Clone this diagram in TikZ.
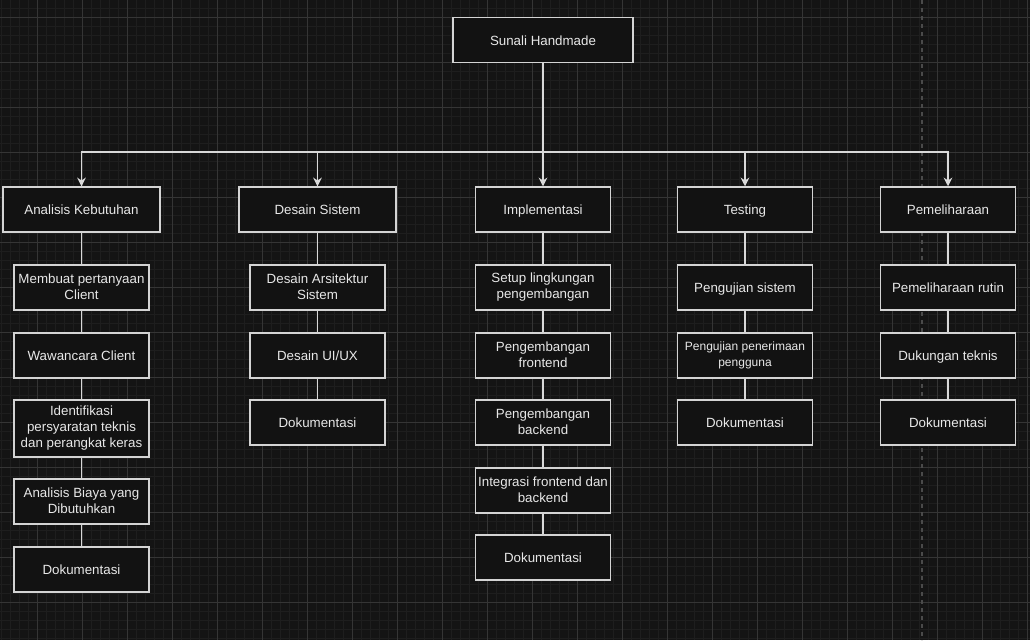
\documentclass[tikz,border=0pt]{standalone}
\usepackage{fontspec}
\setmainfont{Liberation Sans}
\usetikzlibrary{arrows.meta}
\definecolor{bg}{HTML}{141414}
\definecolor{gridminor}{HTML}{1E1E1E}
\definecolor{gridmajor}{HTML}{353535}
\definecolor{boxfill}{HTML}{121212}
\definecolor{boxline}{HTML}{D4D4D4}
\definecolor{lineclr}{HTML}{D8D8D8}
\definecolor{txt}{HTML}{E8E8E8}
\definecolor{dashclr}{HTML}{4A4A4A}
\begin{document}
\begin{tikzpicture}[x=0.75pt,y=-0.75pt,
  box/.style={draw=boxline, line width=1.1pt, fill=boxfill, text=txt,
    font=\fontsize{10}{12}\selectfont, align=center, inner sep=0pt,
    minimum width=101.25pt, minimum height=33.75pt,
    execute at begin node={\rule{0pt}{9.4pt}},
    execute at end node={\rule[-1.6pt]{0pt}{1.6pt}}},
  widebox/.style={minimum width=117.75pt},
  rootbox/.style={minimum width=135pt},
  tallbox/.style={minimum height=42.75pt},
  smalltxt/.style={font=\fontsize{9}{11.8}\selectfont},
  minorline/.style={draw=gridminor, line width=0.75pt},
  majorline/.style={draw=gridmajor, line width=0.75pt},
  conn/.style={draw=lineclr, line width=1.1pt},
  arr/.style={conn, -{Stealth[length=6.5pt,width=6.5pt]}}]
\useasboundingbox (0,0) rectangle (1030,640);
\fill[bg] (0,0) rectangle (1030,640);
% grid
\foreach \x in {1,10,...,1030} \draw[minorline] (\x,0) -- (\x,640);
\foreach \y in {8,17,...,640} \draw[minorline] (0,\y) -- (1030,\y);
\foreach \x in {37,82,...,1030} \draw[majorline] (\x,0) -- (\x,640);
\foreach \y in {17,62,...,640} \draw[majorline] (0,\y) -- (1030,\y);
% dashed guide
\draw[dashclr, line width=1pt, dash pattern=on 3pt off 3pt] (922,0) -- (922,640);

% root
\node[box, rootbox] (root) at (543,40) {Sunali Handmade};

% level 1
\node[box, widebox] (a1) at (81.5,209.5) {Analisis Kebutuhan};
\node[box, widebox] (d1) at (317.5,209.5) {Desain Sistem};
\node[box] (i1) at (543,209.5) {Implementasi};
\node[box] (t1) at (745,209.5) {Testing};
\node[box] (p1) at (948,209.5) {Pemeliharaan};

% Analisis column
\node[box] (a2) at (81.5,287.5) {Membuat pertanyaan\\Client};
\node[box] (a3) at (81.5,355.5) {Wawancara Client};
\node[box, tallbox] (a4) at (81.5,428.5) {Identifikasi\\persyaratan teknis\\dan perangkat keras};
\node[box] (a5) at (81.5,501.5) {Analisis Biaya yang\\Dibutuhkan};
\node[box] (a6) at (81.5,569.5) {Dokumentasi};

% Desain column
\node[box] (d2) at (317.5,287.5) {Desain Arsitektur\\Sistem};
\node[box] (d3) at (317.5,355.5) {Desain UI/UX};
\node[box] (d4) at (317.5,422.5) {Dokumentasi};

% Implementasi column
\node[box] (i2) at (543,287.5) {Setup lingkungan\\pengembangan};
\node[box] (i3) at (543,355.5) {Pengembangan\\frontend};
\node[box] (i4) at (543,422.5) {Pengembangan\\backend};
\node[box] (i5) at (543,490.5) {Integrasi frontend dan\\backend};
\node[box] (i6) at (543,557.5) {Dokumentasi};

% Testing column
\node[box] (t2) at (745,287.5) {Pengujian sistem};
\node[box, smalltxt] (t3) at (745,355.5) {Pengujian penerimaan\\pengguna};
\node[box] (t4) at (745,422.5) {Dokumentasi};

% Pemeliharaan column
\node[box] (p2) at (948,287.5) {Pemeliharaan rutin};
\node[box] (p3) at (948,355.5) {Dukungan teknis};
\node[box] (p4) at (948,422.5) {Dokumentasi};

% connectors root -> level 1
\coordinate (bus) at (543,152);
\draw[arr] (root.south) -- (bus) -| (a1.north);
\draw[arr] (root.south) -- (bus) -| (d1.north);
\draw[arr] (root.south) -- (i1.north);
\draw[arr] (root.south) -- (bus) -| (t1.north);
\draw[arr] (root.south) -- (bus) -| (p1.north);

% vertical chains
\draw[conn] (a1.south) -- (a2.north);
\draw[conn] (a2.south) -- (a3.north);
\draw[conn] (a3.south) -- (a4.north);
\draw[conn] (a4.south) -- (a5.north);
\draw[conn] (a5.south) -- (a6.north);

\draw[conn] (d1.south) -- (d2.north);
\draw[conn] (d2.south) -- (d3.north);
\draw[conn] (d3.south) -- (d4.north);

\draw[conn] (i1.south) -- (i2.north);
\draw[conn] (i2.south) -- (i3.north);
\draw[conn] (i3.south) -- (i4.north);
\draw[conn] (i4.south) -- (i5.north);
\draw[conn] (i5.south) -- (i6.north);

\draw[conn] (t1.south) -- (t2.north);
\draw[conn] (t2.south) -- (t3.north);
\draw[conn] (t3.south) -- (t4.north);

\draw[conn] (p1.south) -- (p2.north);
\draw[conn] (p2.south) -- (p3.north);
\draw[conn] (p3.south) -- (p4.north);
\end{tikzpicture}
\end{document}
